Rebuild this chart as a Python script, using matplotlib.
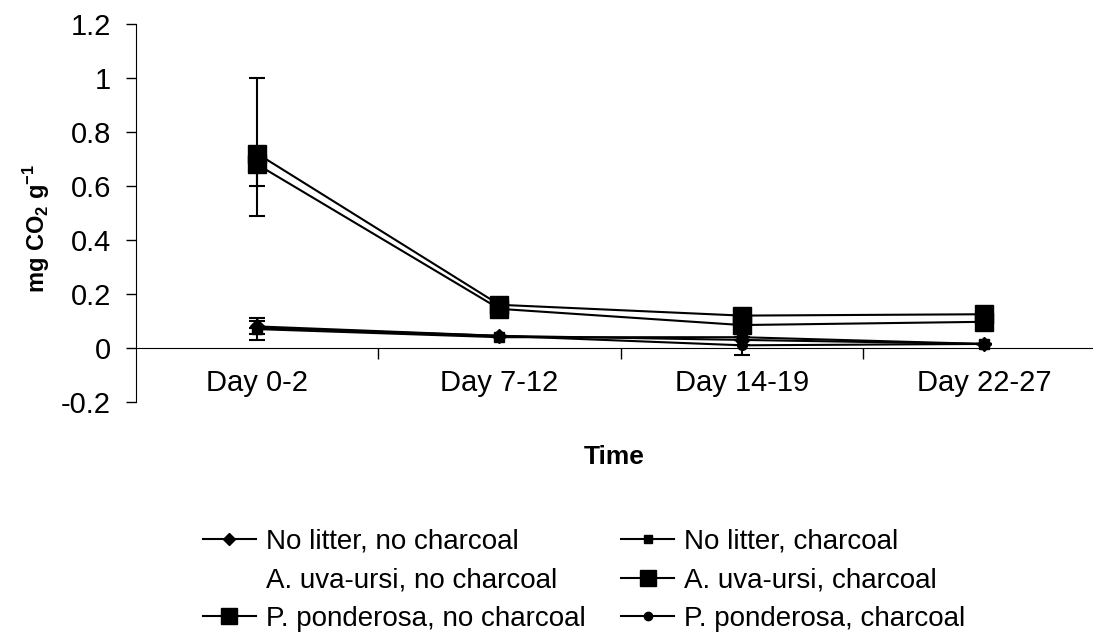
import matplotlib
matplotlib.use("Agg")
import matplotlib.pyplot as plt
from matplotlib.lines import Line2D
from matplotlib.ticker import FixedLocator

plt.rcParams['font.family'] = ['Liberation Sans', 'DejaVu Sans']
plt.rcParams['mathtext.fontset'] = 'custom'
plt.rcParams['mathtext.rm'] = 'Liberation Sans'
plt.rcParams['mathtext.bf'] = 'Liberation Sans:bold'

days = ['Day 0-2', 'Day 7-12', 'Day 14-19', 'Day 22-27']
x = list(range(len(days)))

# mean respiration per period (mg CO2 / g)
no_litter_no_char = [0.080, 0.045, 0.030, 0.015]
no_litter_char = [0.070, 0.040, 0.040, 0.015]
auva_no_char = [0.700, 0.155, 0.105, 0.110]
auva_char = [0.720, 0.160, 0.120, 0.125]
ppond_no_char = [0.680, 0.145, 0.085, 0.097]
ppond_char = [0.075, 0.045, 0.010, 0.015]

# error bars (lower, upper)
err_no_litter_no_char = [[0.030, 0.0, 0.0, 0.0], [0.032, 0.0, 0.0, 0.0]]
err_no_litter_char = [[0.040, 0.0, 0.0, 0.0], [0.030, 0.0, 0.0, 0.0]]
err_auva_char = [[0.120, 0.0, 0.0, 0.0], [0.280, 0.0, 0.0, 0.0]]
err_ppond_no_char = [[0.190, 0.0, 0.0, 0.0], [0.0, 0.0, 0.0, 0.0]]
err_ppond_char = [[0.0, 0.0, 0.036, 0.0], [0.0, 0.0, 0.0, 0.0]]
err_auva_no_char = [[0.095, 0.0, 0.0, 0.0], [0.0, 0.0, 0.0, 0.0]]

fig = plt.figure(figsize=(10.93, 6.36), dpi=100)
ax = fig.add_axes([136/1093, 1-402/636, 1-136/1093, (402-24)/636])

eb = dict(color='black', lw=1.5, capsize=5.5, capthick=1.5, elinewidth=1.5)
ax.errorbar(x, no_litter_no_char, yerr=err_no_litter_no_char, marker='D', ms=7, **eb)
ax.errorbar(x, no_litter_char, yerr=err_no_litter_char, marker='s', ms=7, **eb)
ax.errorbar(x, auva_char, yerr=err_auva_char, marker='s', ms=12.5, zorder=3, **eb)
ax.errorbar(x, ppond_no_char, yerr=err_ppond_no_char, marker='s', ms=12.5, zorder=3, **eb)
ax.errorbar(x, ppond_char, yerr=err_ppond_char, marker='o', ms=7, **eb)
# white series: only visible where it cuts through the other lines
ax.errorbar(x, auva_no_char, yerr=err_auva_no_char, color='white', lw=1.5,
            capsize=0, elinewidth=2.5, zorder=2.5)

ax.set_xlim(-0.5, 3.45)
ax.set_ylim(-0.2, 1.2)
ax.set_yticks([-0.2, 0, 0.2, 0.4, 0.6, 0.8, 1, 1.2])
ax.set_yticklabels(['-0.2', '0', '0.2', '0.4', '0.6', '0.8', '1', '1.2'])
ax.set_xticks(x)
ax.set_xticklabels(days)
ax.xaxis.set_minor_locator(FixedLocator([0.5, 1.5, 2.5]))
ax.tick_params(axis='x', which='major', length=0, pad=15, labelsize=21)
ax.tick_params(axis='x', which='minor', length=8, width=1, direction='out')
ax.tick_params(axis='y', length=7, width=1, pad=11, labelsize=21)

ax.spines['top'].set_visible(False)
ax.spines['right'].set_visible(False)
ax.spines['bottom'].set_position(('data', 0))

fig.text(37/1093, 1-228/636, 'mg CO$_\\mathbf{2}$ g$^\\mathbf{-1}$', rotation=90,
         ha='center', va='center', fontsize=17, fontweight='bold')
fig.text(614/1093, 1-457/636, 'Time', ha='center', va='center', fontsize=19, fontweight='bold')

labels = ['No litter, no charcoal', 'A. uva-ursi, no charcoal', 'P. ponderosa, no charcoal',
          'No litter, charcoal', 'A. uva-ursi, charcoal', 'P. ponderosa, charcoal']
markers = ['D', None, 's', 's', 's', 'o']
sizes = [6, 0, 11, 6, 11, 6]
colors = ['black', 'white', 'black', 'black', 'black', 'black']
handles = [Line2D([], [], color=c, marker=m, ms=s, lw=1.5) for c, m, s in zip(colors, markers, sizes)]
fig.legend(handles, labels, ncol=2, loc='upper left', bbox_to_anchor=(203/1093, 1-529/636),
           frameon=False, fontsize=20, handlelength=1.9, handletextpad=0.35,
           columnspacing=1.3, labelspacing=0.45, borderpad=0, borderaxespad=0)

fig.savefig('out.png', dpi=100)
